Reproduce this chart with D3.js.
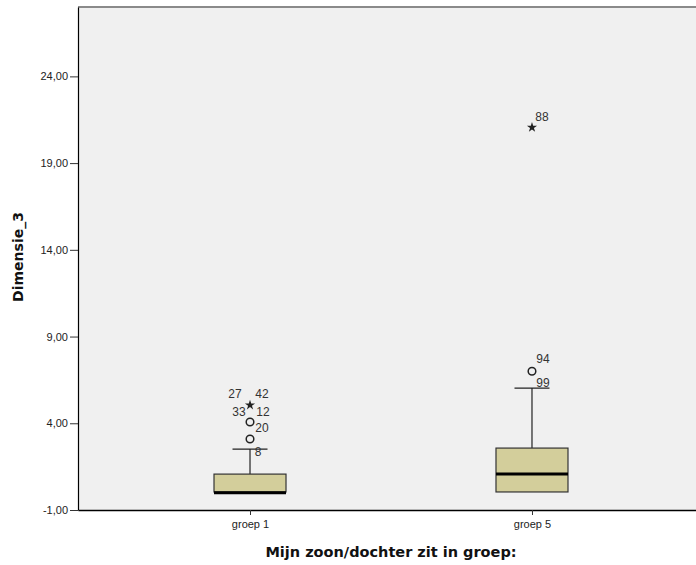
<!DOCTYPE html>
<html><head><meta charset="utf-8">
<script src="https://cdn.jsdelivr.net/npm/d3@7"></script>
<style>body{margin:0;background:#fff}svg{display:block}text{font-family:"Liberation Sans",Arial,sans-serif}</style>
</head><body><svg id="c" width="696" height="565"></svg>
<script>
const categories = ["groep 1", "groep 5"];
const q1 = [0.04, 0.04];
const median = [0.0, 1.07];
const q3 = [1.07, 2.57];
const whiskerLow = [0.0, 0.0];
const whiskerHigh = [2.51, 6.03];
// outliers: group index, value, marker type, case labels
const outlierGroup = [0, 0, 0, 1, 1];
const outlierValue = [3.09, 4.07, 5.05, 7.0, 21.06];
const outlierType = ["circle", "circle", "star", "circle", "star"];
const outlierLabels = [["8"], ["20"], ["27", "42", "33", "12"], ["94", "99"], ["88"]];
const yTicks = [-1, 4, 9, 14, 19, 24];
const yDomain = [-1, 28];

const svg = d3.select("#c");
const L = 78, R = 704, T = 7, B = 510;
const x = d3.scalePoint().domain(categories).range([L, R]).padding(0.61);
const y = d3.scaleLinear().domain(yDomain).range([B, T]);

svg.append("rect").attr("x", L).attr("y", T).attr("width", R - L).attr("height", B - T).attr("fill", "#f0f0f0");
svg.append("line").attr("x1", L).attr("x2", R).attr("y1", T).attr("y2", T).attr("stroke", "#8a8a8a").attr("stroke-width", 2);

const fmt = d => d3.format(".2f")(d).replace(".", ",").replace("\u2212", "-");
const yAxis = svg.append("g").attr("transform", `translate(${L},0)`)
  .call(d3.axisLeft(y).tickValues(yTicks).tickFormat(fmt).tickSize(8).tickSizeOuter(0).tickPadding(2));
yAxis.select(".domain").attr("stroke", "#000").attr("stroke-width", 1.2);
yAxis.selectAll("text").attr("font-size", 11).attr("fill", "#222");
yAxis.selectAll(".tick line").attr("stroke", "#333");

const xAxis = svg.append("g").attr("transform", `translate(0,${B})`)
  .call(d3.axisBottom(x).tickSize(5).tickSizeOuter(0).tickPadding(5));
xAxis.select(".domain").attr("stroke", "#000").attr("stroke-width", 1.6);
xAxis.selectAll("text").attr("font-size", 11).attr("fill", "#222");
xAxis.selectAll(".tick line").attr("stroke", "#333");

svg.append("text").attr("x", (L + R) / 2).attr("y", 557).attr("text-anchor", "middle")
  .style("font-family", "'DejaVu Sans', Verdana, sans-serif")
  .attr("font-size", 14.5).attr("font-weight", "bold").attr("fill", "#111").text("Mijn zoon/dochter zit in groep:");
svg.append("text").attr("transform", `translate(23,257) rotate(-90)`).attr("text-anchor", "middle")
  .style("font-family", "'DejaVu Sans', Verdana, sans-serif")
  .attr("font-size", 14).attr("font-weight", "bold").attr("fill", "#111").text("Dimensie_3");

const bw = 72, cw = 35;
categories.forEach((c, i) => {
  const cx = x(c);
  const g = svg.append("g");
  g.append("line").attr("x1", cx).attr("x2", cx).attr("y1", y(q3[i])).attr("y2", y(whiskerHigh[i])).attr("stroke", "#222").attr("stroke-width", 1.2);
  g.append("line").attr("x1", cx - cw / 2).attr("x2", cx + cw / 2).attr("y1", y(whiskerHigh[i])).attr("y2", y(whiskerHigh[i])).attr("stroke", "#222").attr("stroke-width", 1.2);
  g.append("rect").attr("x", cx - bw / 2).attr("width", bw).attr("y", y(q3[i])).attr("height", y(q1[i]) - y(q3[i]))
    .attr("fill", "#d3ce9b").attr("stroke", "#333").attr("stroke-width", 1.2);
  g.append("line").attr("x1", cx - bw / 2).attr("x2", cx + bw / 2).attr("y1", y(median[i])).attr("y2", y(median[i]))
    .attr("stroke", "#000").attr("stroke-width", 3);
});

const labelOffsets = [
  [[8, 14]],
  [[12, 7]],
  [[-15, -10], [12, -10], [-11, 8], [13, 8]],
  [[11, -11], [11, 13]],
  [[10, -10]]
];
outlierValue.forEach((v, k) => {
  const cx = x(categories[outlierGroup[k]]), cy = y(v);
  if (outlierType[k] === "circle") {
    svg.append("circle").attr("cx", cx).attr("cy", cy).attr("r", 3.8).attr("fill", "none").attr("stroke", "#222").attr("stroke-width", 1.5);
  } else {
    svg.append("path").attr("d", d3.symbol(d3.symbolStar, 32)()).attr("transform", `translate(${cx},${cy})`).attr("fill", "#222");
  }
  outlierLabels[k].forEach((lab, j) => {
    const o = labelOffsets[k][j];
    svg.append("text").attr("x", cx + o[0]).attr("y", cy + o[1]).attr("text-anchor", "middle").attr("dominant-baseline", "middle")
      .attr("font-size", 12).attr("fill", "#333").text(lab);
  });
});
</script></body></html>
